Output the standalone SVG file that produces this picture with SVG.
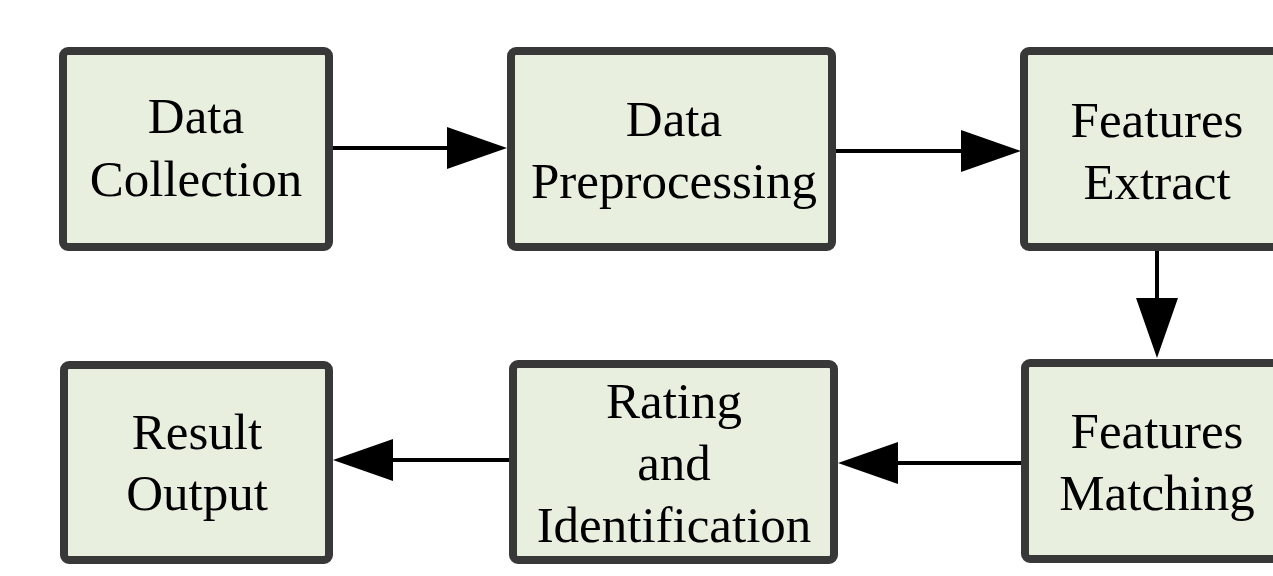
<svg xmlns="http://www.w3.org/2000/svg" width="1273" height="576" viewBox="0 0 1273 576">
<defs>
<style>
.box{fill:#e9efdf;stroke:#383838;stroke-width:8;}
.lbl{font-family:"Liberation Serif","Times New Roman",serif;font-size:51px;fill:#000;text-anchor:middle;}
.conn{stroke:#000;stroke-width:4;fill:none;marker-end:url(#head);}
</style>
<marker id="head" viewBox="0 0 60 42" refX="0" refY="21" markerWidth="60" markerHeight="42" markerUnits="userSpaceOnUse" orient="auto">
<path d="M0,0 L60,21 L0,42 Z" fill="#000"/>
</marker>
</defs>
<rect width="1273" height="576" fill="#fff"/>
<g id="connectors">
<line class="conn" x1="333" y1="148" x2="447" y2="148"/>
<line class="conn" x1="835" y1="151" x2="961" y2="151"/>
<line class="conn" x1="1157" y1="251" x2="1157" y2="298"/>
<line class="conn" x1="1021" y1="463" x2="898" y2="463"/>
<line class="conn" x1="513" y1="460" x2="393" y2="460"/>
</g>
<g id="data-collection">
<rect class="box" x="63" y="51" width="266" height="196" rx="5"/>
<text class="lbl" x="196" y="133">Data</text>
<text class="lbl" x="196" y="196">Collection</text>
</g>
<g id="data-preprocessing">
<rect class="box" x="511" y="51" width="321" height="196" rx="5"/>
<text class="lbl" x="674" y="136">Data</text>
<text class="lbl" x="674" y="198">Preprocessing</text>
</g>
<g id="features-extract">
<rect class="box" x="1024" y="51" width="265" height="196" rx="5"/>
<text class="lbl" x="1157" y="137">Features</text>
<text class="lbl" x="1157" y="199">Extract</text>
</g>
<g id="features-matching">
<rect class="box" x="1025" y="363" width="264" height="196" rx="5"/>
<text class="lbl" x="1157" y="448">Features</text>
<text class="lbl" x="1157" y="510">Matching</text>
</g>
<g id="rating-identification">
<rect class="box" x="513" y="364" width="321" height="196" rx="5"/>
<text class="lbl" x="674" y="418">Rating</text>
<text class="lbl" x="674" y="480">and</text>
<text class="lbl" x="674" y="542">Identification</text>
</g>
<g id="result-output">
<rect class="box" x="64" y="365" width="265" height="195" rx="5"/>
<text class="lbl" x="197" y="449">Result</text>
<text class="lbl" x="197" y="510">Output</text>
</g>
</svg>
